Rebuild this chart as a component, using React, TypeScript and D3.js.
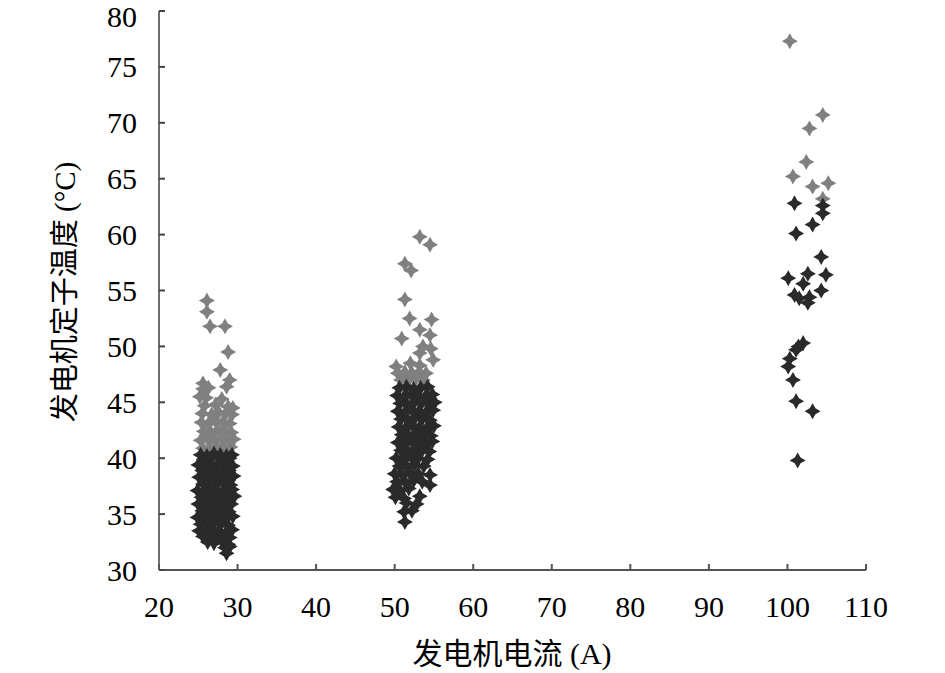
//@ts-nocheck
import { useEffect } from 'react';
import * as d3 from 'd3';

// x ticks / y ticks
const xTicks = [20, 30, 40, 50, 60, 70, 80, 90, 100, 110];
const yTicks = [30, 35, 40, 45, 50, 55, 60, 65, 70, 75, 80];

// ~27 A, lower temperatures
const darkLow = [
  [25.3, 40.3], [26.1, 40.2], [27.0, 40.4], [27.8, 40.3], [28.6, 40.2], [29.3, 40.3],
  [25.7, 39.9], [26.6, 40.0], [28.2, 39.8], [29.0, 40.0],
  [25.0, 39.4], [25.9, 39.5], [26.8, 39.3], [27.5, 39.5], [28.4, 39.4], [29.4, 39.3],
  [25.5, 38.9], [26.3, 38.8], [27.2, 38.9], [28.0, 38.7], [28.9, 38.9],
  [25.1, 38.3], [26.0, 38.2], [26.9, 38.4], [27.7, 38.3], [28.5, 38.2], [29.5, 38.4],
  [25.6, 37.7], [26.4, 37.6], [27.3, 37.8], [28.2, 37.7], [29.1, 37.6],
  [24.9, 37.1], [25.9, 37.0], [26.7, 37.2], [27.5, 37.1], [28.4, 37.0], [29.3, 37.2],
  [25.4, 36.5], [26.2, 36.4], [27.1, 36.6], [27.9, 36.5], [28.8, 36.4], [29.6, 36.6],
  [25.0, 35.9], [25.8, 35.8], [26.6, 36.0], [27.4, 35.9], [28.3, 35.8], [29.2, 35.9],
  [25.5, 35.3], [26.3, 35.2], [27.2, 35.4], [28.0, 35.3], [28.9, 35.2],
  [24.9, 34.7], [25.9, 34.6], [26.7, 34.8], [27.6, 34.7], [28.5, 34.6], [29.4, 34.8],
  [25.3, 34.1], [26.2, 34.0], [27.0, 34.2], [27.9, 34.1], [28.8, 34.0],
  [25.1, 33.5], [25.9, 33.4], [26.8, 33.6], [27.6, 33.5], [28.6, 33.4], [29.3, 33.6],
  [25.6, 33.0], [26.5, 32.9], [27.3, 33.1], [28.3, 33.0], [29.0, 32.9],
  [26.2, 32.5], [27.0, 32.4], [28.0, 32.6], [28.8, 32.3],
  [28.4, 32.0], [29.0, 32.1], [28.6, 31.5],
];
const grayLow = [
  [25.6, 40.9], [26.5, 40.9], [27.4, 41.0], [28.3, 40.9], [29.1, 41.0],
  [25.3, 41.6], [26.2, 41.7], [27.1, 41.6], [28.0, 41.7], [28.9, 41.6], [29.5, 41.7],
  [25.7, 42.4], [26.6, 42.3], [27.5, 42.5], [28.4, 42.4], [29.2, 42.3],
  [25.4, 43.2], [26.3, 43.1], [27.2, 43.3], [28.1, 43.2], [29.0, 43.1],
  [25.5, 44.0], [26.7, 43.9], [27.6, 44.1], [28.5, 44.0], [29.3, 43.9],
  [25.8, 44.7], [27.2, 44.8], [28.8, 44.6], [29.4, 44.5],
  [25.2, 45.5], [26.0, 45.4], [28.0, 45.3],
  [25.6, 46.2], [26.3, 46.3], [28.6, 46.4],
  [25.6, 46.7], [29.0, 47.0], [27.8, 47.9], [28.8, 49.5],
  [26.5, 51.8], [28.4, 51.8], [26.1, 53.1], [26.1, 54.1],
];

// ~52 A
const darkMid = [
  [50.6, 46.3], [51.5, 46.4], [52.4, 46.2], [53.3, 46.3], [54.2, 46.4],
  [50.3, 45.6], [51.2, 45.5], [52.1, 45.7], [53.0, 45.6], [53.9, 45.5], [54.8, 45.7],
  [50.7, 44.9], [51.6, 44.8], [52.5, 45.0], [53.4, 44.9], [54.4, 44.8], [55.1, 45.0],
  [50.4, 44.2], [51.3, 44.1], [52.2, 44.3], [53.1, 44.2], [54.0, 44.1], [54.9, 44.3],
  [50.8, 43.5], [51.7, 43.4], [52.6, 43.6], [53.5, 43.5], [54.5, 43.4],
  [50.5, 42.8], [51.4, 42.7], [52.3, 42.9], [53.2, 42.8], [54.1, 42.7], [55.0, 42.9],
  [50.9, 42.1], [51.8, 42.0], [52.7, 42.2], [53.6, 42.1], [54.6, 42.0],
  [50.4, 41.4], [51.3, 41.3], [52.2, 41.5], [53.1, 41.4], [54.0, 41.3], [54.8, 41.5],
  [50.8, 40.7], [51.7, 40.6], [52.6, 40.8], [53.5, 40.7], [54.4, 40.6],
  [50.2, 40.0], [51.2, 39.9], [52.1, 40.1], [53.0, 40.0], [54.2, 39.9],
  [50.6, 39.3], [51.6, 39.2], [52.5, 39.4], [53.7, 39.3],
  [50.0, 38.6], [51.0, 38.5], [51.9, 38.7], [53.0, 38.6], [54.5, 38.5],
  [50.3, 37.9], [51.4, 37.8], [52.4, 38.0], [53.5, 37.9],
  [49.8, 37.2], [50.7, 37.1], [51.8, 37.3], [54.5, 37.6],
  [50.1, 36.5], [51.2, 36.4], [53.2, 36.6],
  [51.5, 36.0], [52.8, 35.9], [51.2, 35.2], [52.2, 35.3], [51.3, 34.3],
];
const grayMid = [
  [50.8, 47.0], [51.8, 47.0], [52.7, 47.1], [53.6, 47.0],
  [50.4, 47.6], [51.3, 47.7], [52.2, 47.6], [53.1, 47.7], [54.0, 47.6],
  [50.2, 48.2], [53.2, 48.3], [52.0, 48.5], [54.9, 48.8], [53.2, 49.4],
  [54.6, 49.8], [53.6, 50.0], [50.9, 50.7], [54.5, 51.0], [53.2, 51.5],
  [54.7, 52.4], [51.9, 52.5], [51.3, 54.2], [52.1, 56.8], [51.3, 57.4],
  [54.5, 59.1], [53.2, 59.8],
];

// ~102 A
const darkHigh = [
  [104.5, 62.6], [100.9, 62.8], [104.5, 61.9], [103.2, 60.9], [101.1, 60.1],
  [104.3, 58.0], [100.1, 56.1], [102.6, 56.5], [104.9, 56.4], [102.0, 55.6],
  [100.9, 54.6], [102.8, 54.4], [104.3, 55.0], [102.6, 53.9], [101.5, 54.3],
  [102.0, 50.3], [101.4, 50.0], [101.1, 49.7], [100.3, 48.9], [100.1, 48.2],
  [100.7, 47.0], [101.1, 45.1], [103.2, 44.2], [101.3, 39.8],
];
const grayHigh = [
  [100.3, 77.3], [104.5, 70.7], [102.8, 69.5], [102.4, 66.5], [100.7, 65.2],
  [103.2, 64.3], [105.2, 64.6], [104.5, 63.2],
];

const W = 945;
const H = 673;
const left = 159;
const right = 866;
const top = 11;
const bottom = 570;

// fat four-pointed star marker
const star = 'M0,-8L2.9,-2.9L8,0L2.9,2.9L0,8L-2.9,2.9L-8,0L-2.9,-2.9Z';

const App = () => {
  useEffect(() => {
    document.body.style.margin = '0';
  }, []);

  const x = d3.scaleLinear().domain([20, 110]).range([left, right]);
  const y = d3.scaleLinear().domain([30, 80]).range([bottom, top]);

  const num = "'Liberation Serif', 'Times New Roman', serif";
  const cjk = "'Liberation Serif', 'Noto Sans CJK SC', serif";

  const series = [
    { pts: grayLow, color: '#808080' },
    { pts: grayMid, color: '#808080' },
    { pts: grayHigh, color: '#808080' },
    { pts: darkLow, color: '#2a2a2a' },
    { pts: darkMid, color: '#2a2a2a' },
    { pts: darkHigh, color: '#2a2a2a' },
  ];

  return (
    <svg width={W} height={H} style={{ display: 'block', background: '#fff' }}>
      {series.map((s, si) => (
        <g key={si} fill={s.color}>
          {s.pts.map((p, i) => (
            <path key={i} d={star} transform={`translate(${x(p[0])},${y(p[1])})`} />
          ))}
        </g>
      ))}

      {/* axes */}
      <line x1={left} x2={left} y1={top} y2={bottom} stroke="#6e6e6e" strokeWidth={2} />
      <line x1={left} x2={right} y1={bottom} y2={bottom} stroke="#555" strokeWidth={2} />
      {yTicks.map((t) => (
        <g key={t}>
          <line x1={left} x2={left + 6} y1={y(t)} y2={y(t)} stroke="#444" strokeWidth={2} />
          <text x={137} y={Math.max(y(t), 16)} dy="0.35em" textAnchor="end" fontFamily={num} fontSize={30} fill="#000">
            {t}
          </text>
        </g>
      ))}
      {xTicks.map((t) => (
        <g key={t}>
          <line x1={x(t)} x2={x(t)} y1={bottom} y2={bottom - 6} stroke="#555" strokeWidth={2} />
          <text x={x(t)} y={617} textAnchor="middle" fontFamily={num} fontSize={30} fill="#000">
            {t}
          </text>
        </g>
      ))}

      <text x={512} y={664} textAnchor="middle" fontFamily={cjk} fontSize={30} fill="#000">
        发电机电流 (A)
      </text>
      <text
        transform="translate(75,292) rotate(-90)"
        textAnchor="middle"
        fontFamily={cjk}
        fontSize={29}
        fill="#000"
      >
        发电机定子温度 (°C)
      </text>
    </svg>
  );
};

export default App;
